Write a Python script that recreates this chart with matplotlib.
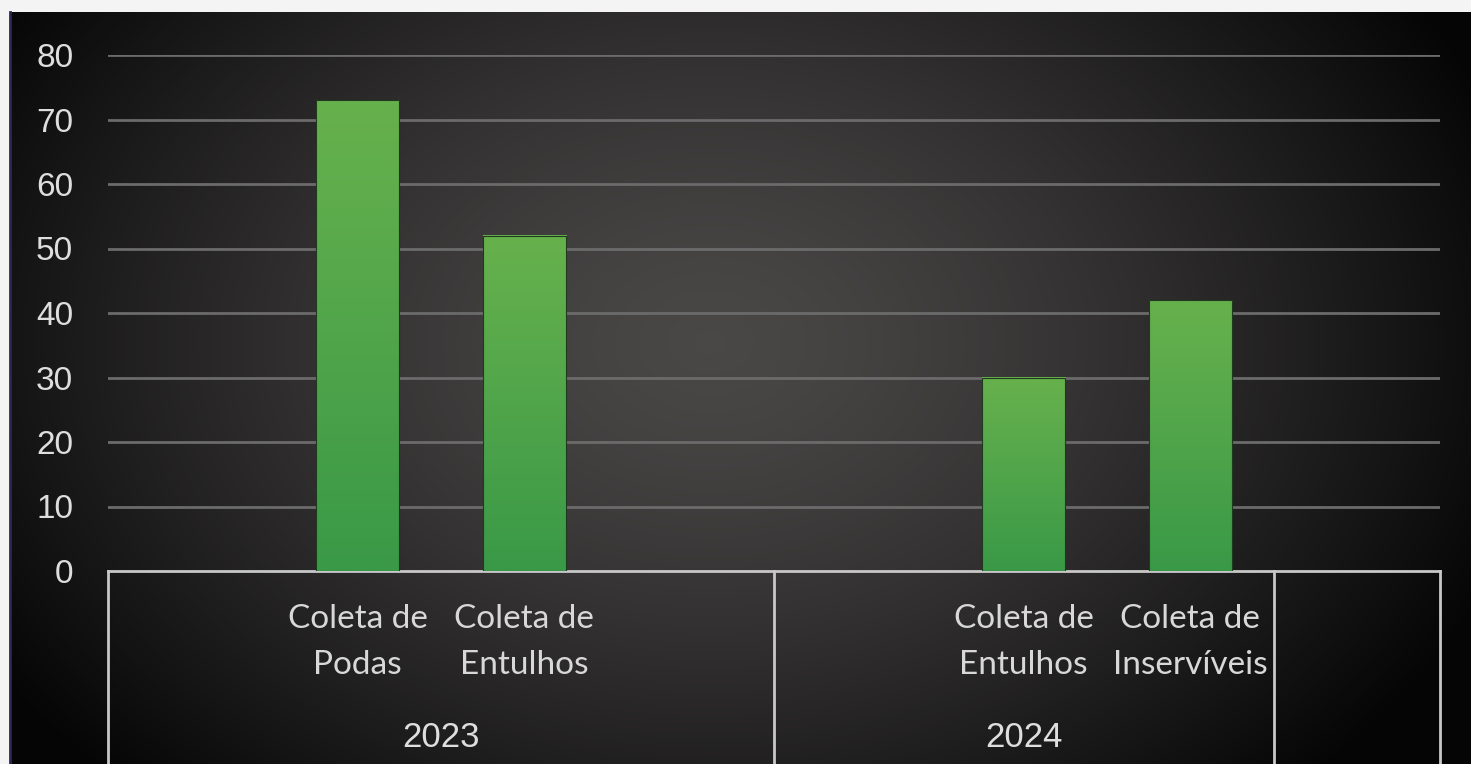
import numpy as np
import matplotlib.pyplot as plt
from matplotlib.colors import LinearSegmentedColormap

### data ###
slots = ['', 'Coleta de\nPodas', 'Coleta de\nEntulhos', '',
         '', 'Coleta de\nEntulhos', 'Coleta de\nInservíveis', '']
values = [np.nan, 73, 52, np.nan, np.nan, 30, 42, np.nan]
groups = ['2023', '2024', '']
group_sizes = [4, 3, 1]
yticks = [0, 10, 20, 30, 40, 50, 60, 70, 80]

W, H = 1471, 764
fig = plt.figure(figsize=(W / 100, H / 100), dpi=100, facecolor='#f4f4f4')

### dark radial background ###
bg = fig.add_axes([10 / W, 0, 1 - 10 / W, 1 - 12 / H])
yy, xx = np.mgrid[0:752, 0:1461]
r = np.sqrt(((xx - 700) / 850.0) ** 2 + ((yy - 330) / 620.0) ** 2)
r = np.clip(r, 0, 1) ** 1.4
bg_cmap = LinearSegmentedColormap.from_list('bg', ['#4a4747', '#050505'])
bg.imshow(r, cmap=bg_cmap, vmin=0, vmax=1, aspect='auto', interpolation='bilinear')
bg.axis('off')
fig.add_artist(plt.Line2D([10 / W, 10 / W], [0, 1 - 12 / H], color='#2a2850', lw=2))

### main chart ###
ax = fig.add_axes([108 / W, 1 - 571 / H, (1440 - 108) / W, (571 - 55) / H])
ax.patch.set_alpha(0)
x = np.arange(len(slots))

for y in yticks[1:]:
    ax.axhline(y, color='#6b6b6b', lw=2, zorder=1)

green = LinearSegmentedColormap.from_list('g', ['#3a9947', '#67b14d'])
grad = np.linspace(0, 1, 100).reshape(-1, 1)
bw = 0.5
for xi, v in zip(x, values):
    if np.isnan(v):
        continue
    ax.imshow(grad, cmap=green, origin='lower', aspect='auto',
              extent=[xi - bw / 2, xi + bw / 2, 0, v], zorder=3)
    ax.add_patch(plt.Rectangle((xi - bw / 2, 0), bw, v, fill=False,
                               edgecolor='#1f3a1f', lw=0.8, zorder=4))
ax.set_xlim(-0.5, len(slots) - 0.5)
ax.set_ylim(0, 80)

for s in ['top', 'right', 'left']:
    ax.spines[s].set_visible(False)
ax.spines['bottom'].set_color('#c8c8c8')
ax.spines['bottom'].set_linewidth(2)

ax.set_yticks(yticks)
ax.set_yticklabels([str(t) for t in yticks], fontsize=24,
                   family='Liberation Sans', color='#dedede')
ax.tick_params(axis='y', length=0, pad=25)
ax.set_xticks(x)
ax.set_xticklabels(slots, fontsize=24, family='Lato', color='#d8d8d8',
                   linespacing=1.65)
ax.tick_params(axis='x', length=0, pad=24)

### group separators and labels ###
edges = np.cumsum([0] + group_sizes) - 0.5
for e in edges:
    ax.plot([e, e], [0, -0.45], transform=ax.get_xaxis_transform(),
            color='#c8c8c8', lw=2, clip_on=False)
for g, a, b in zip(groups, edges[:-1], edges[1:]):
    ax.text((a + b) / 2, -0.322, g, transform=ax.get_xaxis_transform(),
            ha='center', va='center', fontsize=25, family='Liberation Sans',
            color='#dedede')

plt.savefig('out.png', dpi=100, facecolor=fig.get_facecolor())
